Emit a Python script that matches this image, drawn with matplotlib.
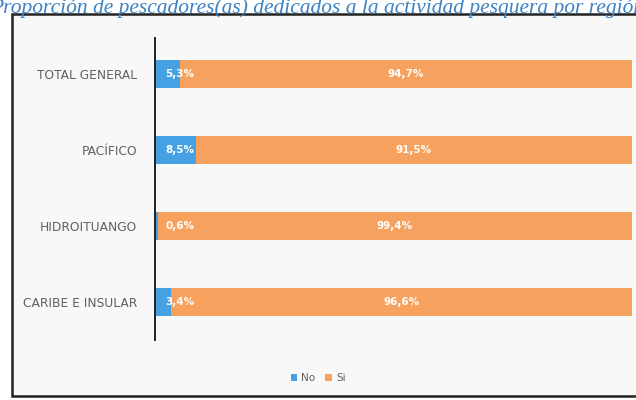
import matplotlib.pyplot as plt
from matplotlib.patches import Rectangle

# data (percent)
categories = ["TOTAL GENERAL", "PACÍFICO", "HIDROITUANGO", "CARIBE E INSULAR"]
no_vals = [5.3, 8.5, 0.6, 3.4]
si_vals = [94.7, 91.5, 99.4, 96.6]
series_names = ["No", "Si"]

title = "Proporción de pescadores(as) dedicados a la actividad pesquera por región"

blue = "#45a0e4"
orange = "#f6a25e"
grey = "#606060"


def fmt(v):
    return f"{v:.1f}".replace(".", ",") + "%"


fig = plt.figure(figsize=(6.36, 4.0), dpi=100)
fig.patch.set_facecolor("white")

# outer frame of the chart area (runs off the right edge, like the photo)
frame = Rectangle((0.019, 0.01), 1.05, 0.955, transform=fig.transFigure,
                  facecolor="#f8f8f8", edgecolor="#222222", linewidth=1.8,
                  zorder=-1)
fig.patches.append(frame)

# title, running off the edges as in the scan
fig.text(-0.016, 0.968, title, color="#3b82c4", fontsize=15.5,
         family="Liberation Serif", style="italic", va="baseline", ha="left")

ax = fig.add_axes([0.2437, 0.15, 0.75, 0.755])
ax.set_facecolor("none")

y = list(range(len(categories)))
h = 0.37
ax.barh(y, no_vals, height=h, color=blue, label=series_names[0])
ax.barh(y, si_vals, left=no_vals, height=h, color=orange, label=series_names[1])

for i in y:
    ax.text(max(no_vals[i] / 2, 5.2), i, fmt(no_vals[i]), color="white",
            fontsize=7.5, fontweight="bold", ha="center", va="center")
    ax.text(no_vals[i] + si_vals[i] / 2, i, fmt(si_vals[i]), color="white",
            fontsize=7.5, fontweight="bold", ha="center", va="center")

ax.set_xlim(0, 100)
ax.set_ylim(3.5, -0.47)
ax.set_yticks(y)
ax.set_yticklabels(categories, fontsize=8.8, color=grey)
ax.tick_params(axis="y", length=0, pad=13)
ax.set_xticks([])
for s in ["top", "right", "bottom"]:
    ax.spines[s].set_visible(False)
ax.spines["left"].set_color("#222222")
ax.spines["left"].set_linewidth(1.4)

fig.legend(loc="center", bbox_to_anchor=(0.5, 0.055), ncol=2, frameon=False,
           fontsize=7.5, labelcolor=grey, handlelength=0.6, handleheight=0.6,
           columnspacing=1.0, handletextpad=0.4)

fig.savefig("out.png", dpi=100, facecolor=fig.get_facecolor())
